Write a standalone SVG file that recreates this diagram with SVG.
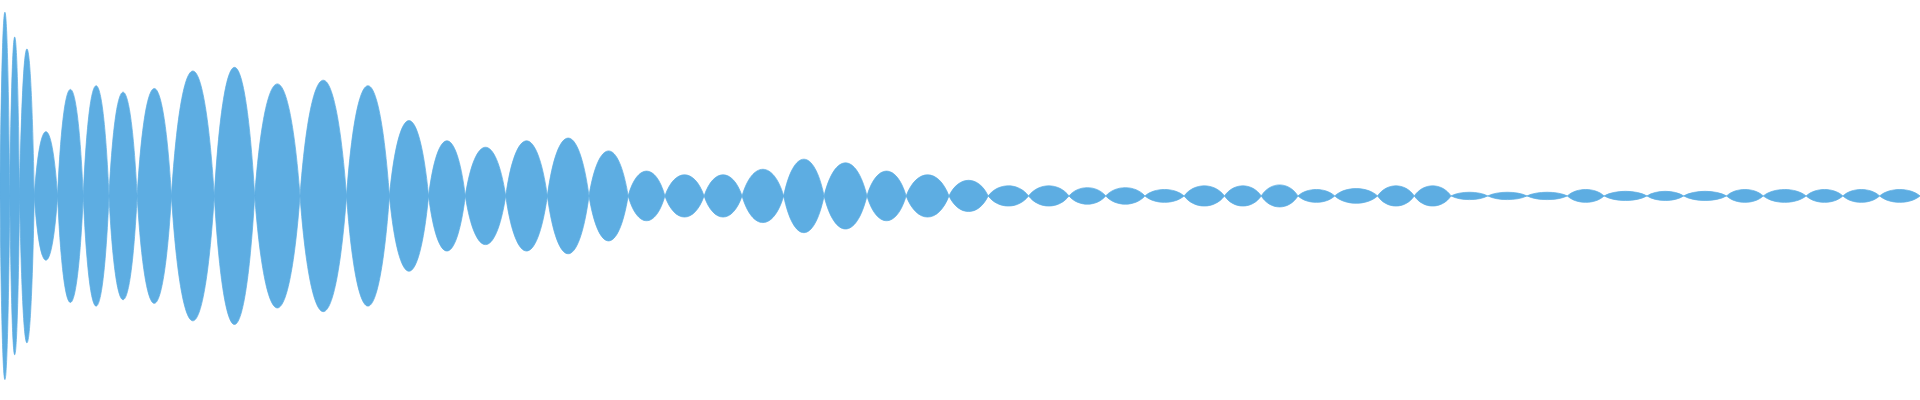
<svg xmlns="http://www.w3.org/2000/svg" width="1920" height="400" viewBox="0 0 1920 400">
<style>.w{fill:#5dade2;stroke:#5dade2;stroke-width:0.6}</style>
<rect width="1920" height="400" fill="#ffffff"/>
<g transform="scale(1.2245)">
<path class="w" d="
M0 160 C2 -40 6 -40 8 160 C6 360 2 360 0 160Z
M8 160 C10 -13 14 -13 16 160 C14 333 10 333 8 160Z
M16 160 C19 0 25 0 28 160 C25 320 19 320 16 160Z
M28 160 C32.75 90 42.25 90 47 160 C42.25 230 32.75 230 28 160Z
M47 160 C52.25 44 62.75 44 68 160 C62.75 276 52.25 276 47 160Z
M68 160 C73.25 40 83.75 40 89 160 C83.75 280 73.25 280 68 160Z
M89 160 C94.75 47 106.25 47 112 160 C106.25 273 94.75 273 89 160Z
M112 160 C119 43 133 43 140 160 C133 277 119 277 112 160Z
M140 160 C148.75 24 166.25 24 175 160 C166.25 296 148.75 296 140 160Z
M175 160 C183.25 20 199.75 20 208 160 C199.75 300 183.25 300 175 160Z
M208 160 C217.25 38 235.75 38 245 160 C235.75 282 217.25 282 208 160Z
M245 160 C254.5 34 273.5 34 283 160 C273.5 286 254.5 286 245 160Z
M283 160 C291.75 40 309.25 40 318 160 C309.25 280 291.75 280 283 160Z
M318 160 C326 78 342 78 350 160 C342 242 326 242 318 160Z
M350 160 C357.5 100 372.5 100 380 160 C372.5 220 357.5 220 350 160Z
M380 160 C388.25 107 404.75 107 413 160 C404.75 213 388.25 213 380 160Z
M413 160 C421.5 100 438.5 100 447 160 C438.5 220 421.5 220 413 160Z
M447 160 C455.5 97 472.5 97 481 160 C472.5 223 455.5 223 447 160Z
M481 160 C489 111 505 111 513 160 C505 209 489 209 481 160Z
M513 160 C520.5 133 535.5 133 543 160 C535.5 187 520.5 187 513 160Z
M543 160 C551 137 567 137 575 160 C567 183 551 183 543 160Z
M575 160 C582.75 137 598.25 137 606 160 C598.25 183 582.75 183 575 160Z
M606 160 C614.5 131 631.5 131 640 160 C631.5 189 614.5 189 606 160Z
M640 160 C648.25 120 664.75 120 673 160 C664.75 200 648.25 200 640 160Z
M673 160 C681.75 124 699.25 124 708 160 C699.25 196 681.75 196 673 160Z
M708 160 C716 133 732 133 740 160 C732 187 716 187 708 160Z
M740 160 C748.75 137 766.25 137 775 160 C766.25 183 748.75 183 740 160Z
M775 160 C783 143 799 143 807 160 C799 177 783 177 775 160Z
M807 160 C815.25 149 831.75 149 840 160 C831.75 171 815.25 171 807 160Z
M840 160 C848.25 149 864.75 149 873 160 C864.75 171 848.25 171 840 160Z
M873 160 C880.5 151 895.5 151 903 160 C895.5 169 880.5 169 873 160Z
M903 160 C911 151 927 151 935 160 C927 169 911 169 903 160Z
M935 160 C943 153 959 153 967 160 C959 167 943 167 935 160Z
M967 160 C975.25 149 991.75 149 1000 160 C991.75 171 975.25 171 967 160Z
M1000 160 C1007.5 149 1022.5 149 1030 160 C1022.5 171 1007.5 171 1000 160Z
M1030 160 C1037.5 148 1052.5 148 1060 160 C1052.5 172 1037.5 172 1030 160Z
M1060 160 C1067.5 153 1082.5 153 1090 160 C1082.5 167 1067.5 167 1060 160Z
M1090 160 C1098.75 152 1116.25 152 1125 160 C1116.25 168 1098.75 168 1090 160Z
M1125 160 C1132.5 149 1147.5 149 1155 160 C1147.5 171 1132.5 171 1125 160Z
M1155 160 C1162.5 149 1177.5 149 1185 160 C1177.5 171 1162.5 171 1155 160Z
M1185 160 C1192.5 156 1207.5 156 1215 160 C1207.5 164 1192.5 164 1185 160Z
M1215 160 C1223 156 1239 156 1247 160 C1239 164 1223 164 1215 160Z
M1247 160 C1255.25 156 1271.75 156 1280 160 C1271.75 164 1255.25 164 1247 160Z
M1280 160 C1287.5 153 1302.5 153 1310 160 C1302.5 167 1287.5 167 1280 160Z
M1310 160 C1318.75 155 1336.25 155 1345 160 C1336.25 165 1318.75 165 1310 160Z
M1345 160 C1352.5 155 1367.5 155 1375 160 C1367.5 165 1352.5 165 1345 160Z
M1375 160 C1383.75 155 1401.25 155 1410 160 C1401.25 165 1383.75 165 1375 160Z
M1410 160 C1417.5 153 1432.5 153 1440 160 C1432.5 167 1417.5 167 1410 160Z
M1440 160 C1448.75 153 1466.25 153 1475 160 C1466.25 167 1448.75 167 1440 160Z
M1475 160 C1482.5 153 1497.5 153 1505 160 C1497.5 167 1482.5 167 1475 160Z
M1505 160 C1512.5 153 1527.5 153 1535 160 C1527.5 167 1512.5 167 1505 160Z
M1535 160 C1543.25 153 1559.75 153 1568 160 C1559.75 167 1543.25 167 1535 160Z"/>
</g>
</svg>
